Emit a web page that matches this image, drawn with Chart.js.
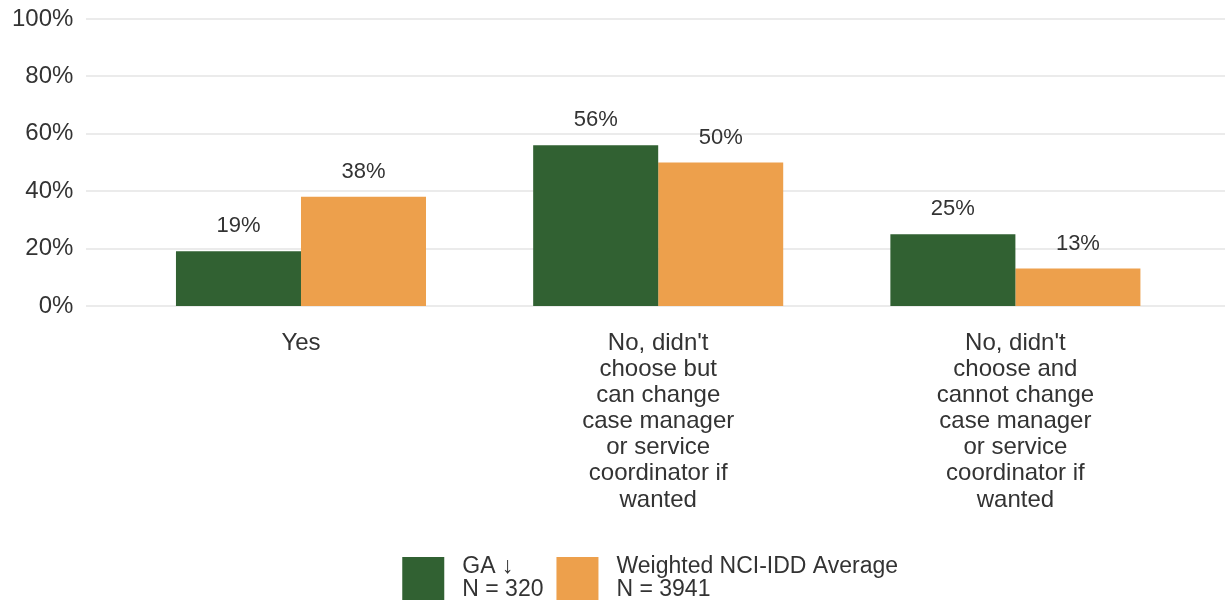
<!DOCTYPE html>
<html>
<head>
<meta charset="utf-8">
<script src="https://cdn.jsdelivr.net/npm/chart.js@4.4.0/dist/chart.umd.min.js"></script>
<style>
  html, body { margin: 0; padding: 0; background: #ffffff; }
  #wrap { width: 1225px; height: 606px; position: relative; }
</style>
</head>
<body>
<div id="wrap"><canvas id="c"></canvas></div>
<script>
const categories = [
  ["Yes"],
  ["No, didn't", "choose but", "can change", "case manager", "or service", "coordinator if", "wanted"],
  ["No, didn't", "choose and", "cannot change", "case manager", "or service", "coordinator if", "wanted"]
];
const gaValues = [19, 56, 25];
const nciValues = [38, 50, 13];
const yTickValues = [0, 20, 40, 60, 80, 100];
const seriesNames = [["GA \u2193", "N = 320"], ["Weighted NCI-IDD Average", "N = 3941"]];
const seriesColors = ["#316132", "#eda04c"];

const FONT = "'Liberation Sans', Arial, sans-serif";
const TEXT = "#333333";

const gridPlugin = {
  id: 'extGrid',
  beforeDatasetsDraw(chart) {
    const ctx = chart.ctx, y = chart.scales.y;
    ctx.save();
    ctx.strokeStyle = '#ebebeb';
    ctx.lineWidth = 2;
    yTickValues.forEach(v => {
      const py = Math.round(y.getPixelForValue(v));
      ctx.beginPath();
      ctx.moveTo(86, py);
      ctx.lineTo(chart.width, py);
      ctx.stroke();
    });
    ctx.restore();
  }
};

const valueLabelPlugin = {
  id: 'valueLabels',
  afterDatasetsDraw(chart) {
    const ctx = chart.ctx;
    ctx.save();
    ctx.font = "22px " + FONT;
    ctx.fillStyle = TEXT;
    ctx.textAlign = 'center';
    ctx.textBaseline = 'middle';
    chart.data.datasets.forEach((ds, i) => {
      chart.getDatasetMeta(i).data.forEach((bar, j) => {
        ctx.fillText(ds.data[j] + '%', bar.x, bar.y - 25);
      });
    });
    ctx.restore();
  }
};

const legendPlugin = {
  id: 'customLegend',
  afterDraw(chart) {
    const ctx = chart.ctx;
    ctx.save();
    ctx.font = "23px " + FONT;
    const box = 42, gapText = 18, gapItem = 13;
    const widths = seriesNames.map(lines => Math.max(...lines.map(l => ctx.measureText(l).width)));
    let total = 0;
    widths.forEach((w, i) => { total += box + gapText + w + (i < widths.length - 1 ? gapItem : 0); });
    const center = (chart.chartArea.left + chart.chartArea.right) / 2 - 8;
    let x = center - total / 2;
    const top = 557;
    seriesNames.forEach((lines, i) => {
      ctx.fillStyle = seriesColors[i];
      ctx.fillRect(x, top, box, 43);
      ctx.fillStyle = TEXT;
      ctx.textAlign = 'left';
      ctx.textBaseline = 'middle';
      lines.forEach((l, k) => ctx.fillText(l, x + box + gapText, top + 10 + k * 23));
      x += box + gapText + widths[i] + gapItem;
    });
    ctx.restore();
  }
};

new Chart(document.getElementById('c'), {
  type: 'bar',
  data: {
    labels: categories,
    datasets: [
      { label: seriesNames[0].join(' '), data: gaValues, backgroundColor: seriesColors[0],
        categoryPercentage: 0.70, barPercentage: 1.0 },
      { label: seriesNames[1].join(' '), data: nciValues, backgroundColor: seriesColors[1],
        categoryPercentage: 0.70, barPercentage: 1.0 }
    ]
  },
  options: {
    responsive: true,
    maintainAspectRatio: false,
    animation: false,
    layout: { padding: { left: 12, right: 31, top: 19, bottom: 93 } },
    plugins: {
      legend: { display: false },
      tooltip: { enabled: false }
    },
    scales: {
      x: {
        grid: { display: false, drawTicks: false },
        border: { display: false },
        afterFit(axis) {
          axis.paddingLeft = 0; axis.paddingRight = 0;
          axis.height = axis.height - axis.options.ticks.padding;
        },
        ticks: {
          color: TEXT,
          font: { family: FONT, size: 24, lineHeight: 1.09 },
          padding: 24,
          maxRotation: 0,
          autoSkip: false
        }
      },
      y: {
        min: 0,
        max: 100,
        afterBuildTicks(axis) { axis.ticks = yTickValues.map(v => ({ value: v })); },
        afterFit(axis) {
          axis.paddingTop = 14; axis.paddingBottom = 14;
          axis.width = axis.width - axis.options.ticks.padding;
        },
        grid: { display: false, drawTicks: false },
        border: { display: false },
        ticks: {
          color: TEXT,
          font: { family: FONT, size: 24 },
          padding: 49,
          callback: v => v + '%'
        }
      }
    }
  },
  plugins: [gridPlugin, valueLabelPlugin, legendPlugin]
});
</script>
</body>
</html>
